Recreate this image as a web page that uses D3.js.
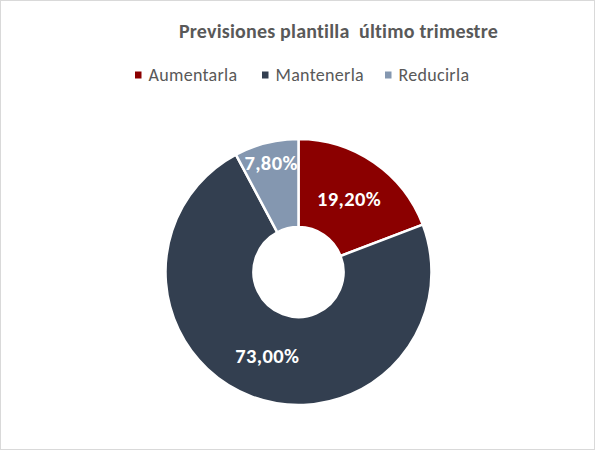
<!DOCTYPE html>
<html><head><meta charset="utf-8">
<script src="https://cdn.jsdelivr.net/npm/d3@7"></script>
<style>html,body{margin:0;padding:0;background:#fff;}svg{display:block;}</style>
</head><body>
<svg id="chart" width="596" height="452"></svg>
<script>
const title = "Previsiones plantilla  último trimestre";
const categories = ["Aumentarla", "Mantenerla", "Reducirla"];
const values = [19.2, 73.0, 7.8];
const colors = ["#8B0000", "#333F50", "#8497B0"];

const W = 596, H = 452;
const svg = d3.select("#chart");
const font = "Carlito, Calibri, Lato, 'Open Sans', sans-serif";

svg.append("rect").attr("x", 0.5).attr("y", 0.5).attr("width", 594).attr("height", 449)
  .attr("fill", "#fff").attr("stroke", "#D9D9D9").attr("stroke-width", 1);

svg.append("text").attr("x", 338.5).attr("y", 38).attr("text-anchor", "middle")
  .attr("font-family", font).attr("font-weight", "bold").attr("font-size", 20)
  .attr("letter-spacing", 0.2)
  .attr("fill", "#595959").style("white-space", "pre").text(title);

// legend
const legendX = d3.scaleOrdinal().domain(categories).range([135, 262, 385]);
const lg = svg.append("g").selectAll("g").data(categories).join("g")
  .attr("transform", d => `translate(${legendX(d)},75)`);
lg.append("rect").attr("x", 0).attr("y", -3.5).attr("width", 6.5).attr("height", 7)
  .attr("fill", (d, i) => colors[i]);
lg.append("text").attr("x", 13.5).attr("y", 0).attr("dy", "0.35em")
  .attr("font-family", font).attr("font-size", 18).attr("letter-spacing", 0.3)
  .attr("fill", "#595959").text(d => d);

// donut
const cx = 298.5, cy = 272, R = 133, r = 45;
const pie = d3.pie().sort(null).value(d => d);
const arcs = pie(values);
const arc = d3.arc().innerRadius(r).outerRadius(R);
const g = svg.append("g").attr("transform", `translate(${cx},${cy})`);
g.selectAll("path").data(arcs).join("path")
  .attr("d", arc).attr("fill", (d, i) => colors[i])
  .attr("stroke", "#fff").attr("stroke-width", 2.5).attr("stroke-linejoin", "round");

const fmt = v => v.toFixed(2).replace(".", ",") + "%";
const labelArc = d3.arc().innerRadius(89).outerRadius(89);
const outerLabelArc = d3.arc().innerRadius(113).outerRadius(113);
g.selectAll("text").data(arcs).join("text")
  .attr("transform", d => {
    const c = (d.data < 10 ? outerLabelArc : labelArc).centroid(d);
    return `translate(${c[0]},${c[1]})`;
  })
  .attr("text-anchor", "middle").attr("dy", "0.35em")
  .attr("font-family", font).attr("font-weight", "bold").attr("font-size", 20.5)
  .attr("letter-spacing", 0.4)
  .attr("fill", "#fff").text(d => fmt(d.data));
</script>
</body></html>
